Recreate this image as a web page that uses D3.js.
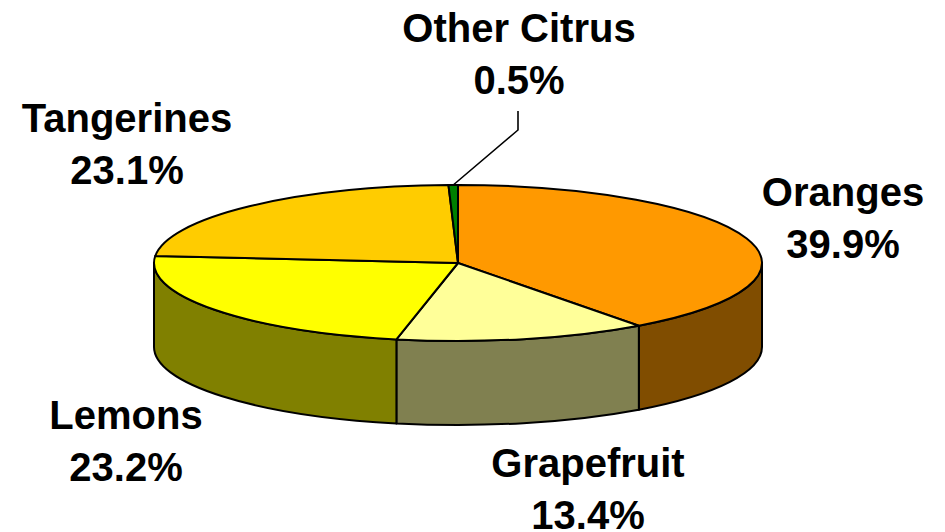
<!DOCTYPE html>
<html><head><meta charset="utf-8">
<script src="https://cdn.jsdelivr.net/npm/d3@7"></script>
<style>html,body{margin:0;background:#fff}svg{display:block}text{font-family:"Liberation Sans",Arial,sans-serif;font-weight:700;font-size:40px;fill:#000;text-anchor:middle}</style>
</head><body><svg id="c" width="945" height="532"></svg>
<script>
const categories = ["Oranges","Grapefruit","Lemons","Tangerines","Other Citrus"];
const shares = [39.9,13.4,23.2,23.1,0.5];
const topColors = ["#FF9900","#FFFF99","#FFFF00","#FFCC00","#008000"];
const sideColors = ["#804D00","#808050","#808000","#806600","#004000"];
const labelCentres = [[843,206],[588,477],[126,429],[127,132],[519,42]];
const lineGap = 52;

const W=945,H=532,cx=458,cy=263,rx=304,ry=78,depth=84;
const svg=d3.select("#c");
const pie=d3.pie().value(d=>d).sort(null).startAngle(0).endAngle(2*Math.PI);
const arcs=pie(shares);
const px=a=>cx+rx*Math.sin(a), py=a=>cy-ry*Math.cos(a);

// sides: only the front half (PI/2 .. 3PI/2) is visible
const sideG=svg.append("g");
arcs.forEach((d,i)=>{
  const a0=Math.max(d.startAngle,Math.PI/2), a1=Math.min(d.endAngle,3*Math.PI/2);
  if(a1<=a0) return;
  const p=`M${px(a0)},${py(a0)}A${rx},${ry} 0 0 1 ${px(a1)},${py(a1)}L${px(a1)},${py(a1)+depth}A${rx},${ry} 0 0 0 ${px(a0)},${py(a0)+depth}Z`;
  sideG.append("path").attr("d",p).attr("fill",sideColors[i]).attr("stroke","#000").attr("stroke-width",2).attr("stroke-linejoin","round");
});

// top face
const topG=svg.append("g");
arcs.forEach((d,i)=>{
  const large=d.endAngle-d.startAngle>Math.PI?1:0;
  const p=`M${cx},${cy}L${px(d.startAngle)},${py(d.startAngle)}A${rx},${ry} 0 ${large} 1 ${px(d.endAngle)},${py(d.endAngle)}Z`;
  topG.append("path").attr("d",p).attr("fill",topColors[i]).attr("stroke","#000").attr("stroke-width",2).attr("stroke-linejoin","round");
});

// leader for the small slice
const last=arcs[arcs.length-1], mid=(last.startAngle+last.endAngle)/2;
svg.append("path").attr("d",`M${px(mid)},${py(mid)}L518,130V111`).attr("fill","none").attr("stroke","#000").attr("stroke-width",1.6);

// labels
categories.forEach((c,i)=>{
  const [x,y]=labelCentres[i];
  const t=svg.append("text").attr("x",x).attr("y",y);
  t.append("tspan").attr("x",x).text(c);
  t.append("tspan").attr("x",x).attr("dy",lineGap).text(d3.format(".1f")(shares[i])+"%");
});
</script></body></html>
